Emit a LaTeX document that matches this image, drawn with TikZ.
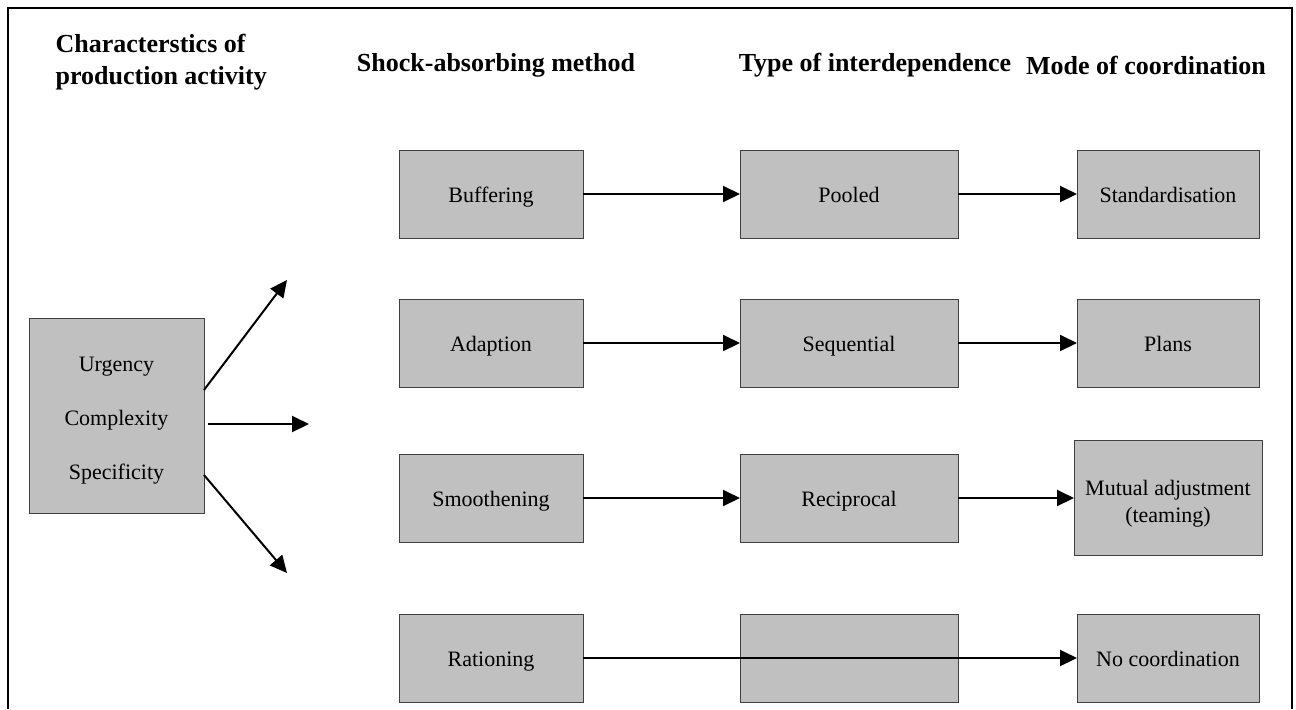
\documentclass[tikz,border=0pt]{standalone}
\usepackage{fontspec}
\setmainfont{Liberation Serif}
\usepackage{tikz}
\usetikzlibrary{positioning}
\usetikzlibrary{arrows.meta}
\definecolor{boxgray}{HTML}{C0C0C0}
\definecolor{edgegray}{HTML}{404040}

\begin{document}
\begin{tikzpicture}[x=0.5pt, y=-0.5pt, outer sep=0, line width=1pt,
    >={Triangle[length=8.5pt,width=8pt]},
    base/.style={draw=edgegray, line width=0.5pt, rectangle, fill=boxgray, font=\fontsize{11}{13.5}\selectfont},
    box/.style={base, text height=11pt, text depth=2.5pt, minimum height=44pt},
    head/.style={font=\fontsize{13}{16}\selectfont\bfseries}]
        \useasboundingbox (0,0) rectangle (1296,709);
        \draw (8,709) -- (8,8) -- (1292,8) -- (1292,709);
        % column headings
        \node [head, anchor=west, align=left] (h1) at (49,62) {Characterstics of\\production activity};
        \node [head] (h2) at (496,65) {Shock-absorbing method};
        \node [head] (h3) at (875,65) {Type of interdependence};
        \node [head] (h4) at (1146,65) {Mode of coordination};
        % characteristics
        \node [base, align=center, text height=66.6pt, minimum height=97.5pt, minimum width=87.5pt, font=\fontsize{11}{27}\selectfont] (1) at (116.5,415.5) {Urgency\\Complexity\\Specificity};
        \coordinate (t1) at (287,280);
        \coordinate (t2) at (309,424);
        \coordinate (t3) at (287,573);
        \draw[->] ([yshift=12.75pt]1.east) -- (t1);
        \draw[->] ([xshift=2pt, yshift=-4.25pt]1.east) -- (t2);
        \draw[->] ([yshift=-29.75pt]1.east) -- (t3);
        % shock-absorbing method
        \node [box, minimum width=92pt] (2) at (491,194) {Buffering};
        \node [box, minimum width=92pt, below = 30.5pt of 2] (3) {Adaption};
        \node [box, minimum width=92pt, below = 33.5pt of 3] (4) {Smoothening};
        \node [box, minimum width=92pt, below = 36pt of 4] (5) {Rationing};
        % type of interdependence
        \node [box, minimum width=109pt, right = 78.5pt of 2] (6) {Pooled};
        \node [box, minimum width=109pt, right = 78.5pt of 3] (7) {Sequential};
        \node [box, minimum width=109pt, right = 78.5pt of 4] (8) {Reciprocal};
        \node [box, minimum width=109pt, right = 78.5pt of 5] (9) {};
        % mode of coordination
        \node [box, minimum width=91pt, right = 59.5pt of 6] (10) {Standardisation};
        \node [box, minimum width=91pt, right = 59.5pt of 7] (11) {Plans};
        \node [base, align=center, text height=27.1pt, minimum width=94pt, minimum height=57.5pt, right = 58pt of 8] (12) {Mutual adjustment\\(teaming)};
        \node [box, minimum width=91pt, right = 59.5pt of 9] (13) {No coordination};
        \draw[->] (2) -- (6);
        \draw[->] (3) -- (7);
        \draw[->] (4) -- (8);
        \draw[->] (6) -- (10);
        \draw[->] (7) -- (11);
        \draw[->] (8) -- (12);
        \draw[->] (5.east) -- (13.west);
    \end{tikzpicture}
\end{document}
